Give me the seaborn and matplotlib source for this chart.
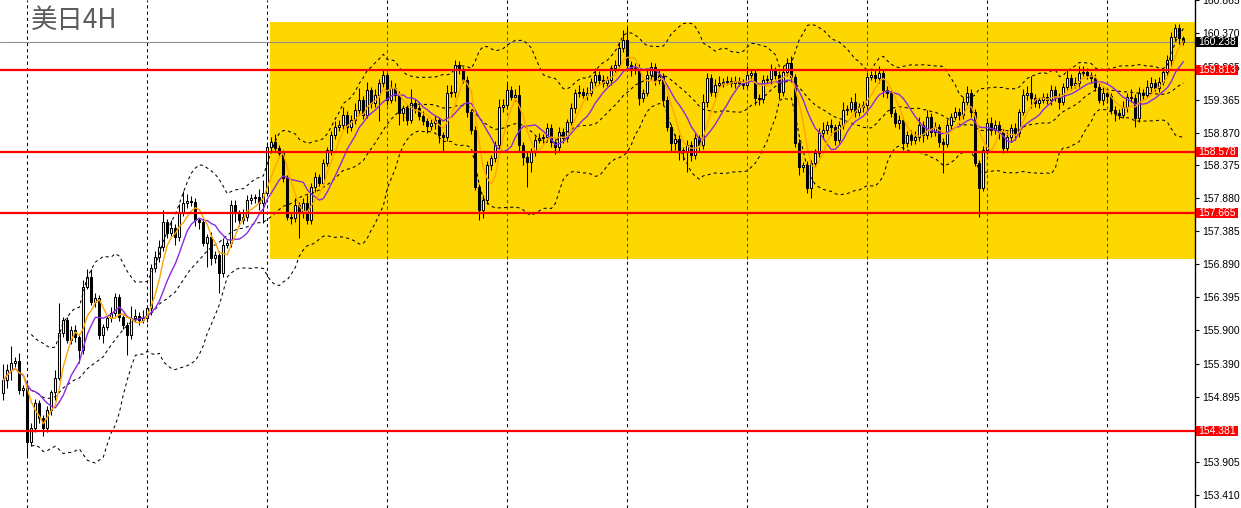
import numpy as np
import pandas as pd
import seaborn as sns
import matplotlib
matplotlib.use('Agg')
import matplotlib.pyplot as plt
import matplotlib.transforms as mtrans
from matplotlib.patches import Rectangle

# USD/JPY 4H candles (open of each bar = previous close)
first_open = 154.95
closes = [
    155.14, 155.30, 155.40, 155.43, 154.99, 155.02, 154.21, 154.42, 154.80, 154.57,
    154.42, 154.69, 154.96, 155.18, 155.85, 156.05, 155.75, 155.90, 155.79, 155.60,
    156.55, 156.70, 156.32, 156.38, 155.82, 155.94, 156.08, 156.15, 156.39, 156.09,
    155.97, 155.82, 156.08, 156.11, 156.05, 156.08, 156.23, 156.83, 157.00, 157.15,
    157.52, 157.36, 157.43, 157.30, 157.66, 157.81, 157.84, 157.83, 157.55, 157.52,
    157.21, 157.30, 156.98, 157.03, 156.76, 157.18, 157.21, 157.78, 157.67, 157.55,
    157.60, 157.85, 157.89, 157.90, 157.81, 157.96, 158.65, 158.73, 158.64, 158.56,
    158.19, 157.60, 157.58, 157.78, 157.67, 157.81, 157.55, 158.05, 158.20, 158.11,
    158.41, 158.61, 158.83, 158.95, 158.98, 159.14, 158.95, 159.06, 159.21, 159.36,
    159.14, 159.51, 159.32, 159.44, 159.62, 159.74, 159.36, 159.54, 159.44, 159.17,
    159.24, 159.06, 159.32, 159.24, 159.12, 159.04, 158.97, 159.01, 159.06, 158.83,
    158.80, 159.47, 159.48, 159.89, 159.81, 159.66, 159.18, 158.91, 158.05, 157.70,
    157.85, 158.38, 158.49, 158.68, 159.26, 159.29, 159.51, 159.41, 159.44, 158.68,
    158.50, 158.43, 158.58, 158.76, 158.79, 158.80, 158.94, 158.73, 158.65, 158.88,
    158.79, 159.03, 159.24, 159.47, 159.48, 159.44, 159.47, 159.63, 159.74, 159.66,
    159.62, 159.66, 159.84, 159.89, 160.14, 160.26, 159.89, 159.81, 159.84, 159.39,
    159.47, 159.74, 159.86, 159.66, 159.72, 159.36, 158.95, 158.71, 158.77, 158.61,
    158.58, 158.68, 158.53, 158.79, 158.68, 159.33, 159.69, 159.48, 159.59, 159.62,
    159.63, 159.65, 159.62, 159.65, 159.62, 159.59, 159.74, 159.77, 159.39, 159.37,
    159.66, 159.68, 159.81, 159.74, 159.48, 159.78, 159.92, 159.71, 158.71, 158.35,
    158.38, 158.04, 158.41, 158.56, 158.86, 158.91, 158.98, 158.95, 158.76, 158.98,
    159.21, 159.23, 159.33, 159.18, 159.26, 159.29, 159.71, 159.74, 159.69, 159.77,
    159.51, 159.47, 159.17, 159.01, 159.06, 158.71, 158.83, 158.76, 158.80, 158.98,
    158.83, 159.11, 158.88, 158.95, 158.73, 158.70, 158.98, 159.11, 159.18, 159.14,
    159.33, 159.47, 159.18, 158.41, 158.04, 158.61, 159.01, 158.91, 158.98, 158.88,
    158.64, 158.80, 158.94, 158.86, 159.18, 159.44, 159.47, 159.39, 159.32, 159.36,
    159.41, 159.36, 159.51, 159.41, 159.33, 159.56, 159.69, 159.59, 159.62, 159.77,
    159.79, 159.74, 159.69, 159.56, 159.36, 159.47, 159.42, 159.21, 159.17, 159.14,
    159.26, 159.41, 159.39, 159.09, 159.47, 159.44, 159.56, 159.62, 159.54, 159.63,
    159.78, 159.96, 160.31, 160.45, 160.29, 160.238,
]
# wick lengths beyond the body, in pips (0.01 yen)
wick_up = [
    25, 8, 25, 6, 12, 5, 5, 8, 6, 4, 5, 6, 4, 12, 45, 5, 5, 6, 8, 4,
    10, 12, 12, 8, 5, 5, 4, 10, 6, 5, 4, 5, 18, 10, 6, 12, 4, 6, 8, 10,
    18, 5, 12, 6, 14, 18, 10, 8, 5, 4, 6, 4, 8, 6, 5, 10, 4, 8, 8, 4,
    12, 8, 6, 5, 12, 20, 8, 8, 12, 5, 5, 4, 6, 10, 5, 8, 12, 6, 8, 5,
    6, 5, 6, 10, 8, 12, 6, 8, 10, 18, 6, 12, 5, 8, 6, 8, 5, 12, 8, 6,
    5, 6, 20, 6, 5, 8, 5, 6, 8, 5, 5, 12, 10, 8, 6, 5, 6, 5, 6, 4,
    8, 6, 5, 6, 12, 8, 12, 6, 8, 14, 5, 10, 6, 6, 8, 5, 8, 6, 5, 8,
    6, 5, 8, 6, 10, 6, 8, 6, 10, 6, 8, 6, 5, 8, 10, 15, 20, 6, 8, 6,
    5, 10, 8, 6, 10, 5, 6, 5, 8, 6, 5, 8, 6, 8, 5, 12, 8, 6, 8, 10,
    6, 8, 5, 8, 6, 5, 14, 6, 5, 6, 8, 6, 10, 5, 6, 10, 8, 10, 5, 6,
    5, 6, 5, 6, 8, 12, 6, 10, 5, 6, 12, 5, 8, 14, 6, 5, 8, 6, 8, 10,
    5, 6, 5, 6, 8, 5, 6, 8, 10, 12, 6, 10, 6, 8, 5, 6, 10, 6, 8, 6,
    8, 10, 5, 5, 5, 6, 8, 10, 8, 6, 5, 8, 6, 8, 5, 8, 10, 25, 6, 5,
    6, 5, 8, 6, 5, 6, 12, 6, 8, 10, 8, 6, 5, 6, 5, 8, 6, 5, 6, 5,
    8, 6, 12, 6, 8, 6, 10, 8, 6, 8, 6, 8, 8, 5, 6, 4,
]
wick_dn = [
    10, 12, 15, 6, 6, 8, 22, 6, 6, 8, 12, 6, 8, 12, 4, 6, 5, 6, 8, 20,
    6, 4, 5, 8, 6, 12, 5, 6, 4, 6, 5, 30, 6, 6, 8, 5, 6, 10, 6, 8,
    6, 8, 5, 12, 6, 5, 8, 6, 8, 10, 5, 36, 10, 8, 30, 6, 5, 6, 14, 8,
    6, 6, 5, 8, 10, 30, 5, 8, 6, 5, 6, 5, 8, 5, 38, 8, 6, 6, 8, 5,
    6, 5, 8, 6, 5, 6, 8, 5, 6, 8, 6, 5, 8, 6, 40, 6, 8, 5, 10, 18,
    12, 8, 5, 8, 6, 6, 10, 6, 8, 12, 20, 5, 6, 8, 6, 5, 8, 6, 5, 15,
    12, 6, 8, 6, 5, 8, 6, 5, 6, 8, 12, 38, 15, 6, 5, 8, 6, 8, 10, 6,
    8, 6, 5, 8, 6, 5, 8, 5, 6, 8, 6, 5, 8, 6, 5, 6, 5, 8, 6, 10,
    6, 5, 8, 8, 6, 8, 6, 12, 10, 15, 12, 30, 8, 6, 8, 5, 8, 6, 8, 5,
    6, 5, 6, 8, 5, 6, 5, 8, 10, 8, 6, 5, 8, 6, 10, 6, 5, 8, 6, 12,
    8, 8, 15, 6, 5, 8, 6, 12, 8, 5, 6, 8, 5, 8, 6, 8, 6, 5, 6, 8,
    10, 8, 6, 5, 8, 10, 6, 8, 6, 5, 10, 6, 8, 6, 8, 44, 5, 6, 5, 8,
    6, 5, 8, 5, 44, 5, 6, 8, 6, 10, 8, 6, 5, 10, 6, 5, 8, 15, 6, 8,
    5, 6, 8, 6, 10, 5, 6, 8, 5, 6, 5, 6, 8, 6, 5, 8, 10, 6, 12, 6,
    5, 8, 6, 14, 6, 8, 5, 8, 5, 6, 5, 6, 8, 6, 8, 5,
]

red_levels = [159.813, 158.578, 157.665, 154.381]
last_price = 160.238
range_box = (156.967, 160.535)      # yellow consolidation zone (low, high)
range_start = 66.7                  # bar index where the zone starts
tick_vals = [160.865, 160.370, 159.865, 159.365, 158.870, 158.375, 157.880, 157.385,
             156.890, 156.395, 155.900, 155.390, 154.895, 153.905, 153.410]
title = '美日4H'

df = pd.DataFrame({'close': closes})
df['open'] = [first_open] + closes[:-1]
df['high'] = np.maximum(df.open, df.close) + np.array(wick_up) / 100
df['low'] = np.minimum(df.open, df.close) - np.array(wick_dn) / 100
df['i'] = np.arange(len(df))
mid = df.close.rolling(20, min_periods=8).mean()
sd = df.close.rolling(20, min_periods=8).std(ddof=0)
df['bb_mid'], df['bb_up'], df['bb_dn'] = mid, mid + 2 * sd, mid - 2 * sd
df['ma5'] = df.close.rolling(5, min_periods=1).mean()
df['ma10'] = df.close.rolling(10, min_periods=1).mean()

sns.set_style('white')
plt.rcParams['font.family'] = ['Liberation Sans', 'DejaVu Sans']

fig = plt.figure(figsize=(12.41, 5.08), dpi=100)
ax = fig.add_axes([0, 0, 1195 / 1241, 1])
ylo, yhi = 153.217, 160.867
ax.set_xlim(-0.825, 297.9)
ax.set_ylim(ylo, yhi)

ax.add_patch(Rectangle((range_start, range_box[0]), 300, range_box[1] - range_box[0],
                       fc='#FFD700', ec='none', zorder=0))

# vertical grid every 30 bars: black outside the zone, blue inside it
dash = (0, (3, 3))
for gx in np.arange(6, len(df), 30):
    if gx < range_start:
        ax.vlines(gx, ylo, yhi, colors='black', linestyles=dash, lw=0.75, zorder=0.5)
    else:
        ax.vlines(gx, ylo, range_box[0], colors='black', linestyles=dash, lw=0.75, zorder=0.5)
        ax.vlines(gx, range_box[1], yhi, colors='black', linestyles=dash, lw=0.75, zorder=0.5)
        ax.vlines(gx, range_box[0], range_box[1], colors='#2040d0', linestyles=dash, lw=0.75, zorder=0.5)

ax.axhline(last_price, color='#909090', lw=0.8, zorder=1)

# candles
up = df.close >= df.open
ax.vlines(df.i, df.low, df.high, color='black', lw=0.75, zorder=2)
body = np.maximum((df.close - df.open).abs(), 0.004)
ax.bar(df.i, body, bottom=np.minimum(df.open, df.close), width=0.55,
       color=np.where(up, 'white', 'black'), edgecolor='black', lw=0.75, zorder=3)

# indicators
for col in ['bb_up', 'bb_mid', 'bb_dn']:
    sns.lineplot(data=df, x='i', y=col, ax=ax, color='black', lw=0.75,
                 linestyle=dash, estimator=None, sort=False, zorder=4)
sns.lineplot(data=df, x='i', y='ma10', ax=ax, color='#8a2be2', lw=1.0,
             estimator=None, sort=False, zorder=4)
sns.lineplot(data=df, x='i', y='ma5', ax=ax, color='#FFA500', lw=1.0,
             estimator=None, sort=False, zorder=4)

for lvl in red_levels:
    ax.axhline(lvl, color='red', lw=1.6, zorder=4.5)

ax.set_xlabel('')
ax.set_ylabel('')
ax.set_xticks([])
ax.yaxis.tick_right()
ax.set_yticks(tick_vals)
ax.set_yticklabels([f'{v:.3f}' for v in tick_vals])
ax.tick_params(axis='y', length=3, width=0.8, pad=2, labelsize=7.5, colors='black')
for s in ['left', 'top', 'bottom']:
    ax.spines[s].set_visible(False)
ax.spines['right'].set_color('black')
ax.spines['right'].set_linewidth(1)

trans = mtrans.blended_transform_factory(ax.transAxes, ax.transData)
for lvl, fc in [(l, 'red') for l in red_levels] + [(last_price, 'black')]:
    ax.add_patch(Rectangle((1196 / 1195, lvl - 0.075), 42 / 1195, 0.15, transform=trans,
                           fc=fc, ec='none', clip_on=False, zorder=5))
    ax.text(1217 / 1195, lvl, f'{lvl:.3f}', transform=trans, ha='center', va='center',
            color='white', fontsize=7.5, clip_on=False, zorder=6)

fig.text(31 / 1241, 1 - 20 / 508, title, fontsize=19, color='#5c5c5c', va='center', ha='left',
         family=['Noto Sans CJK SC', 'DejaVu Sans'])

fig.savefig('out.png', dpi=100)
